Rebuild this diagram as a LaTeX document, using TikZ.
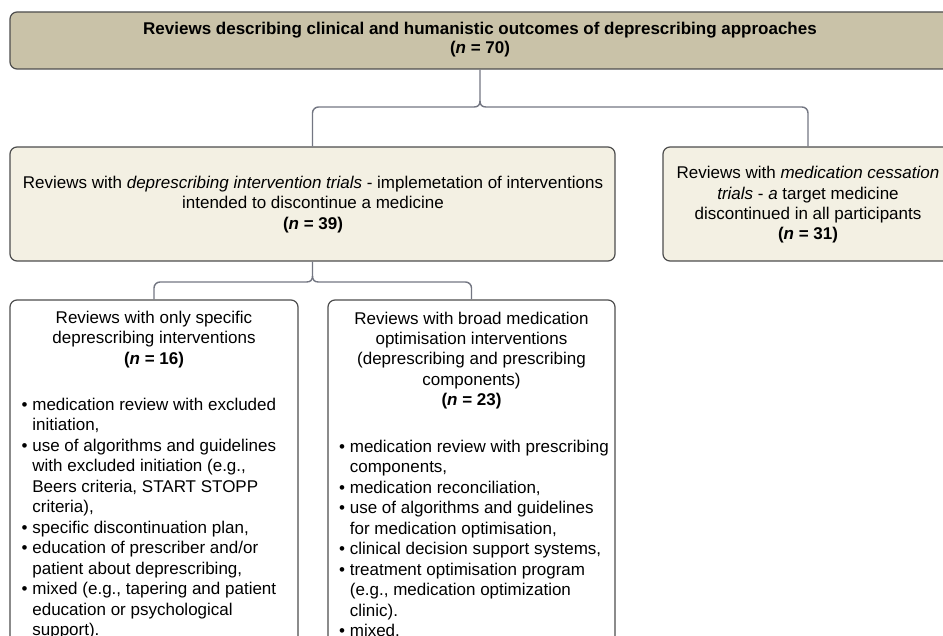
\documentclass[tikz,border=0pt]{standalone}
\usepackage{fontspec}
\setmainfont{Liberation Sans}
\usetikzlibrary{calc}
\definecolor{khaki}{HTML}{C9C2A8}
\definecolor{cream}{HTML}{F3F0E3}
\definecolor{bord}{HTML}{4D4D4D}
\definecolor{conncol}{HTML}{737682}
\begin{document}
\begin{tikzpicture}[x=1pt,y=-1pt,
  box/.style={draw=bord,line width=1.2pt,rounded corners=7pt,inner sep=0pt},
  txt/.style={align=center,font=\fontsize{17}{20.4}\selectfont,inner sep=0pt},
  lst/.style={align=left,font=\fontsize{17}{20.45}\selectfont,inner sep=0pt,anchor=north west},
  cn/.style={draw=conncol,line width=1.4pt}]
\useasboundingbox (0,0) rectangle (943,636);
\clip (0,0) rectangle (943,636);

% boxes
\node[box,fill=khaki,minimum width=940pt,minimum height=57pt] (top) at (480,40.5) {};
\node[box,fill=cream,minimum width=605pt,minimum height=114pt] (mid) at (312.5,204) {};
\node[box,fill=cream,minimum width=290pt,minimum height=114pt] (right) at (808,204) {};
\node[box,fill=white,minimum width=288pt,minimum height=380pt] (bl) at (154,490) {};
\node[box,fill=white,minimum width=287pt,minimum height=380pt] (bm) at (471.5,490) {};

% texts
\node[txt,font=\bfseries\fontsize{17}{19}\selectfont] (toptxt) at (480,40)
  {Reviews describing clinical and humanistic outcomes of deprescribing approaches\\(\textit{n} = 70)};
\node[txt] (midtxt) at (313,204.5)
  {Reviews with \textit{deprescribing intervention trials} - implemetation of interventions\\
   intended to discontinue a medicine\\ \textbf{(\textit{n} = 39)}};
\node[txt] (righttxt) at (808,205)
  {Reviews with \textit{medication cessation}\\ \textit{trials} - \textit{a} target medicine\\
   discontinued in all participants\\ \textbf{(\textit{n} = 31)}};
\node[txt] (blhead) at (154,339.5)
  {Reviews with only specific\\ deprescribing interventions\\ \textbf{(\textit{n} = 16)}};
\node[txt] (bmhead) at (471.5,360.5)
  {Reviews with broad medication\\ optimisation interventions\\ (deprescribing and prescribing\\
   components)\\ \textbf{(\textit{n} = 23)}};
\node[lst] (bllist) at (21.5,398)
  {• medication review with excluded\\
   \hphantom{• }initiation,\\
   • use of algorithms and guidelines\\
   \hphantom{• }with excluded initiation (e.g.,\\
   \hphantom{• }Beers criteria, START STOPP\\
   \hphantom{• }criteria),\\
   • specific discontinuation plan,\\
   • education of prescriber and/or\\
   \hphantom{• }patient about deprescribing,\\
   • mixed (e.g., tapering and patient\\
   \hphantom{• }education or psychological\\
   \hphantom{• }support).};
\node[lst] (bmlist) at (339,440)
  {• medication review with prescribing\\
   \hphantom{• }components,\\
   • medication reconciliation,\\
   • use of algorithms and guidelines\\
   \hphantom{• }for medication optimisation,\\
   • clinical decision support systems,\\
   • treatment optimisation program\\
   \hphantom{• }(e.g., medication optimization\\
   \hphantom{• }clinic).\\
   • mixed.};

% connectors
\coordinate (j1) at (480,101);
\coordinate (j2) at (312.5,276);
\draw[cn] (top.south) -- (j1) .. controls (480,105) and (478,107) .. (474,107)
  [rounded corners=6pt] -| (mid.north);
\draw[cn] (j1) .. controls (480,105) and (482,107) .. (486,107)
  [rounded corners=6pt] -| (right.north);
\draw[cn] (mid.south) -- (j2) .. controls (312.5,280) and (310.5,282) .. (306.5,282)
  [rounded corners=6pt] -| (bl.north);
\draw[cn] (j2) .. controls (312.5,280) and (314.5,282) .. (318.5,282)
  [rounded corners=6pt] -| (bm.north);
\end{tikzpicture}
\end{document}
